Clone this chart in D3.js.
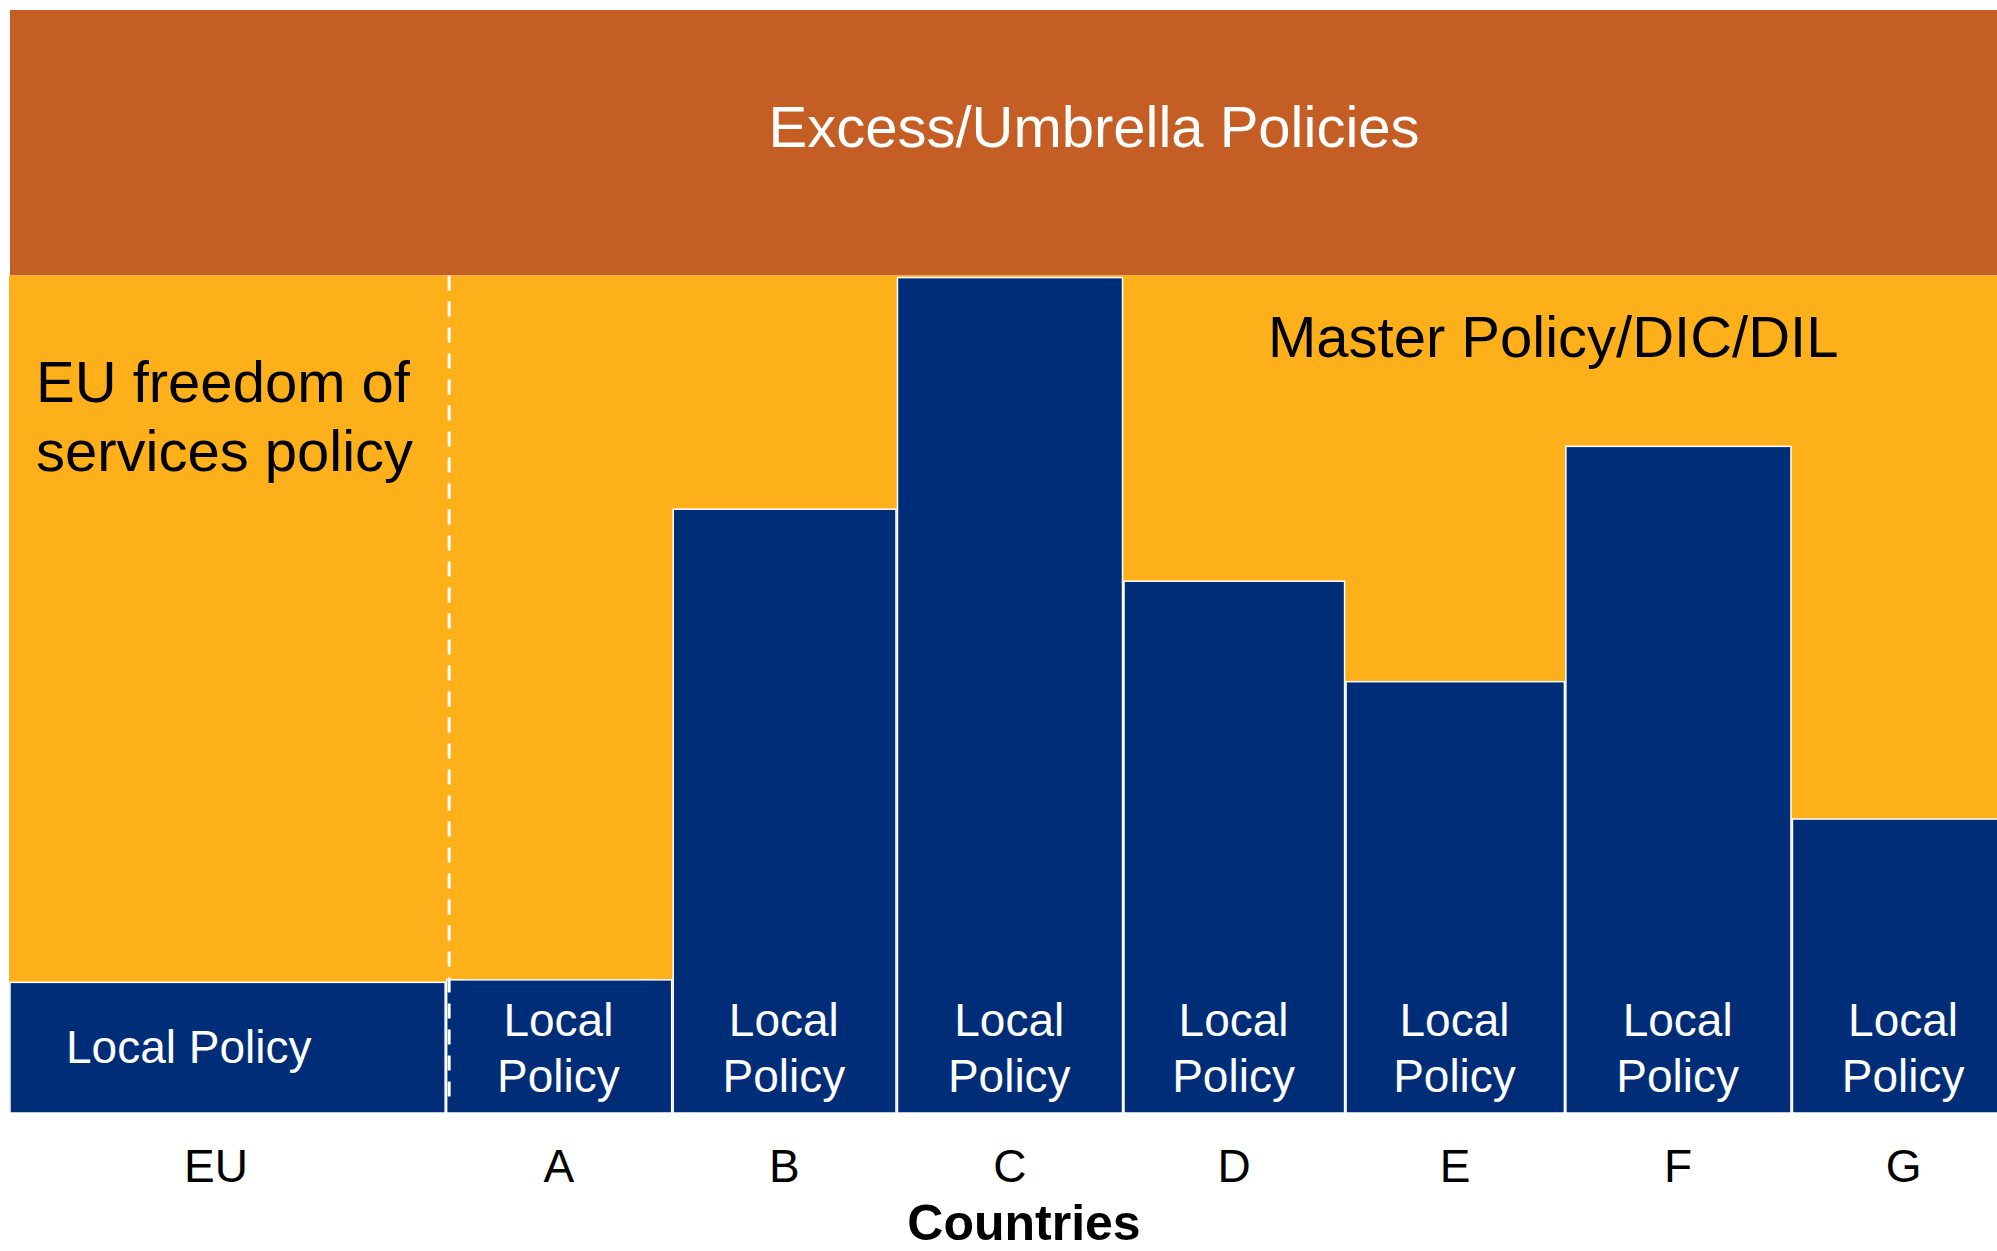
<!DOCTYPE html>
<html>
<head>
<meta charset="utf-8">
<script src="https://cdn.jsdelivr.net/npm/d3@7"></script>
<style>
  body { margin: 0; background: #fff; }
  text { font-family: "Liberation Sans", Arial, sans-serif; }
</style>
</head>
<body>
<div id="chart"></div>
<script>
// Countries and relative column widths (EU column is about twice as wide)
const countries = ["EU", "A", "B", "C", "D", "E", "F", "G"];
const widthUnits = [1.94, 1.01, 1.0, 1.01, 0.99, 0.98, 1.01, 1.0];
// Height of the local policy cover per country
const localCover = [15.6, 15.9, 72.1, 99.75, 63.5, 51.5, 79.6, 35.1];
// Layer tops
const masterTop = 100;
const excessTop = 131.7;
const layerLabels = ["Excess/Umbrella Policies", "Master Policy/DIC/DIL"];
const euLabel = ["EU freedom of", "services policy"];

const colors = { excess: "#C55E24", master: "#FDB01A", local: "#002D77" };

const width = 1997, height = 1251;

// Build column table
let acc = 0;
const cols = countries.map((c, i) => {
    const start = acc;
    acc += widthUnits[i];
    return { country: c, start: start, end: acc, value: localCover[i] };
});

const x = d3.scaleLinear()
    .domain([0, acc])
    .range([10, 10 + acc * 224.3]);

const y = d3.scaleLinear()
    .domain([0, excessTop])
    .range([1113, 10]);

const svg = d3.select("#chart")
    .append("svg")
    .attr("width", width)
    .attr("height", height);

// Excess / umbrella band
svg.append("rect")
    .attr("x", x(0))
    .attr("y", y(excessTop))
    .attr("width", width - x(0))
    .attr("height", y(masterTop) - y(excessTop))
    .attr("fill", colors.excess);

// Master policy band
svg.append("rect")
    .attr("x", x(0) - 1)
    .attr("y", y(masterTop))
    .attr("width", width - x(0) + 1)
    .attr("height", y(0) - y(masterTop))
    .attr("fill", colors.master);

// Local policy bars
svg.selectAll(".local")
    .data(cols)
    .join("rect")
    .attr("class", "local")
    .attr("x", d => x(d.start) + (d.start > 0 ? 1.5 : 0))
    .attr("y", d => y(d.value))
    .attr("width", d => x(d.end) - x(d.start) - (d.start > 0 ? 1.5 : 0))
    .attr("height", d => y(0) - y(d.value))
    .attr("fill", colors.local)
    .attr("stroke", "#fff")
    .attr("stroke-width", 1.5);

// Dashed divider between EU and countries
svg.append("line")
    .attr("x1", x(cols[1].start) + 4)
    .attr("x2", x(cols[1].start) + 4)
    .attr("y1", y(masterTop))
    .attr("y2", y(0) - 6)
    .attr("stroke", "#fff")
    .attr("stroke-width", 3)
    .attr("stroke-dasharray", "15,11");

// Local policy labels
const eu = cols[0];
svg.append("text")
    .attr("x", x(eu.start) + 56)
    .attr("y", y(0) - 50)
    .attr("fill", "#fff")
    .style("font-size", "46px")
    .text("Local Policy");

const others = cols.slice(1);
const lbl = svg.selectAll(".lp")
    .data(others)
    .join("text")
    .attr("class", "lp")
    .attr("text-anchor", "middle")
    .attr("fill", "#fff")
    .style("font-size", "46px");
lbl.append("tspan")
    .attr("x", d => (x(d.start) + x(d.end)) / 2)
    .attr("y", y(0) - 77)
    .text("Local");
lbl.append("tspan")
    .attr("x", d => (x(d.start) + x(d.end)) / 2)
    .attr("y", y(0) - 21)
    .text("Policy");

// X axis with country names
const axis = svg.append("g")
    .attr("transform", `translate(0,${y(0)})`)
    .call(d3.axisBottom(x)
        .tickValues(cols.map(d => (d.start + d.end) / 2))
        .tickFormat((d, i) => countries[i])
        .tickSize(0)
        .tickPadding(36));
axis.select(".domain").remove();
axis.selectAll("text")
    .style("font-size", "46px")
    .style("font-family", "'Liberation Sans', Arial, sans-serif")
    .attr("fill", "#000");
// EU label sits a little left of its column centre in the original
axis.selectAll(".tick").filter((d, i) => i === 0).select("text").attr("dx", -12);

svg.append("text")
    .attr("x", 1024)
    .attr("y", 1240)
    .attr("text-anchor", "middle")
    .style("font-size", "50px")
    .style("font-weight", "bold")
    .text("Countries");

// Layer annotations
svg.append("text")
    .attr("x", 1094)
    .attr("y", 147)
    .attr("text-anchor", "middle")
    .attr("fill", "#fff")
    .style("font-size", "58px")
    .text(layerLabels[0]);

svg.append("text")
    .attr("x", 1268)
    .attr("y", 357)
    .style("font-size", "58px")
    .text(layerLabels[1]);

svg.append("text")
    .selectAll("tspan")
    .data(euLabel)
    .join("tspan")
    .attr("x", 36)
    .attr("y", (d, i) => 402 + i * 69)
    .style("font-size", "58px")
    .text(d => d);
</script>
</body>
</html>
